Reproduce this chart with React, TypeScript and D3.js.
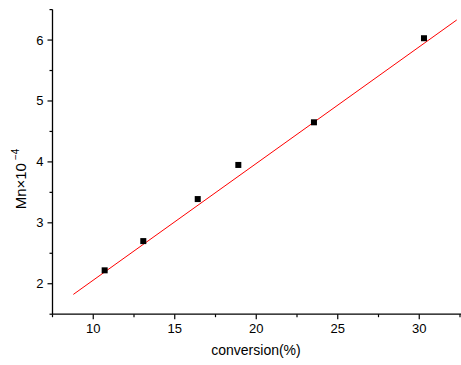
import {useEffect, useRef} from 'react';
import * as d3 from 'd3';

// measured points (conversion %, Mn x 10^-4)
const conversion = [10.7, 13.07, 16.41, 18.9, 23.54, 30.29];
const mnValues = [2.22, 2.7, 3.39, 3.95, 4.65, 6.03];

// linear fit drawn in red, endpoints
const fitX = [8.78, 32.3];
const fitY = [1.825, 6.33];

const xMajorTicks = [10, 15, 20, 25, 30];
const xMinorTicks = [7.5, 12.5, 17.5, 22.5, 27.5, 32.5];
const yMajorTicks = [2, 3, 4, 5, 6];
const yMinorTicks = [1.5, 2.5, 3.5, 4.5, 5.5, 6.5];

const xTitle = 'conversion(%)';

const width = 461;
const height = 365;

export default function App() {
    const svgRef = useRef<SVGSVGElement>(null);

    useEffect(() => {
        const svg = d3.select(svgRef.current);
        svg.selectAll('*').remove();

        const font = 'Liberation Sans, Arial, sans-serif';

        const x = d3.scaleLinear().domain([7.5, 32.5]).range([52.5, 460]);
        const y = d3.scaleLinear().domain([1.5, 6.5]).range([314.2, 9.6]);

        svg.append('rect').attr('width', width).attr('height', height).attr('fill', '#fff');

        // X axis
        const xAxis = svg.append('g').attr('transform', `translate(0,${y(1.5)})`);
        xAxis.append('line')
            .attr('x1', x(7.5)).attr('x2', width)
            .attr('stroke', '#000').attr('stroke-width', 1.3);
        xAxis.selectAll('.xmaj').data(xMajorTicks).enter().append('line')
            .attr('x1', d => x(d)).attr('x2', d => x(d))
            .attr('y1', 0).attr('y2', 5)
            .attr('stroke', '#000').attr('stroke-width', 1.2);
        xAxis.selectAll('.xmin').data(xMinorTicks).enter().append('line')
            .attr('x1', d => x(d)).attr('x2', d => x(d))
            .attr('y1', 0).attr('y2', 3)
            .attr('stroke', '#000').attr('stroke-width', 1.2);
        xAxis.selectAll('.xlab').data(xMajorTicks).enter().append('text')
            .attr('x', d => x(d)).attr('y', 19)
            .attr('text-anchor', 'middle')
            .attr('font-family', font).attr('font-size', 13)
            .text(d => d);

        // Y axis
        const yAxis = svg.append('g').attr('transform', `translate(${x(7.5)},0)`);
        yAxis.append('line')
            .attr('y1', y(6.5)).attr('y2', y(1.5))
            .attr('stroke', '#000').attr('stroke-width', 1.3);
        yAxis.selectAll('.ymaj').data(yMajorTicks).enter().append('line')
            .attr('y1', d => y(d)).attr('y2', d => y(d))
            .attr('x1', 0).attr('x2', -5)
            .attr('stroke', '#000').attr('stroke-width', 1.2);
        yAxis.selectAll('.ymin').data(yMinorTicks).enter().append('line')
            .attr('y1', d => y(d)).attr('y2', d => y(d))
            .attr('x1', 0).attr('x2', -3)
            .attr('stroke', '#000').attr('stroke-width', 1.2);
        yAxis.selectAll('.ylab').data(yMajorTicks).enter().append('text')
            .attr('x', -9).attr('y', d => y(d) + 4.5)
            .attr('text-anchor', 'end')
            .attr('font-family', font).attr('font-size', 13)
            .text(d => d);

        // fit line
        svg.append('path').datum(fitX.map((d, i) => [d, fitY[i]]))
            .attr('fill', 'none')
            .attr('stroke', '#ff0000')
            .attr('stroke-width', 1)
            .attr('d', d3.line().x(d => x(d[0])).y(d => y(d[1])));

        // square markers
        svg.selectAll('.pt').data(conversion).enter().append('rect')
            .attr('x', d => x(d) - 3).attr('y', (d, i) => y(mnValues[i]) - 3)
            .attr('width', 6).attr('height', 6)
            .attr('fill', '#000');

        // titles
        svg.append('text')
            .attr('x', 256).attr('y', 355)
            .attr('text-anchor', 'middle')
            .attr('font-family', font).attr('font-size', 14)
            .text(xTitle);

        const yt = svg.append('text')
            .attr('transform', `translate(25.5,179) rotate(-90)`)
            .attr('text-anchor', 'middle')
            .attr('font-family', font).attr('font-size', 15);
        yt.append('tspan').text('Mn×10');
        yt.append('tspan').attr('dx', 3).attr('dy', -7).attr('font-size', 10).text('−4');
    }, []);

    return (
        <div style={{position: 'absolute', left: 0, top: 0}}>
            <svg ref={svgRef} width={width} height={height}></svg>
        </div>
    );
}
